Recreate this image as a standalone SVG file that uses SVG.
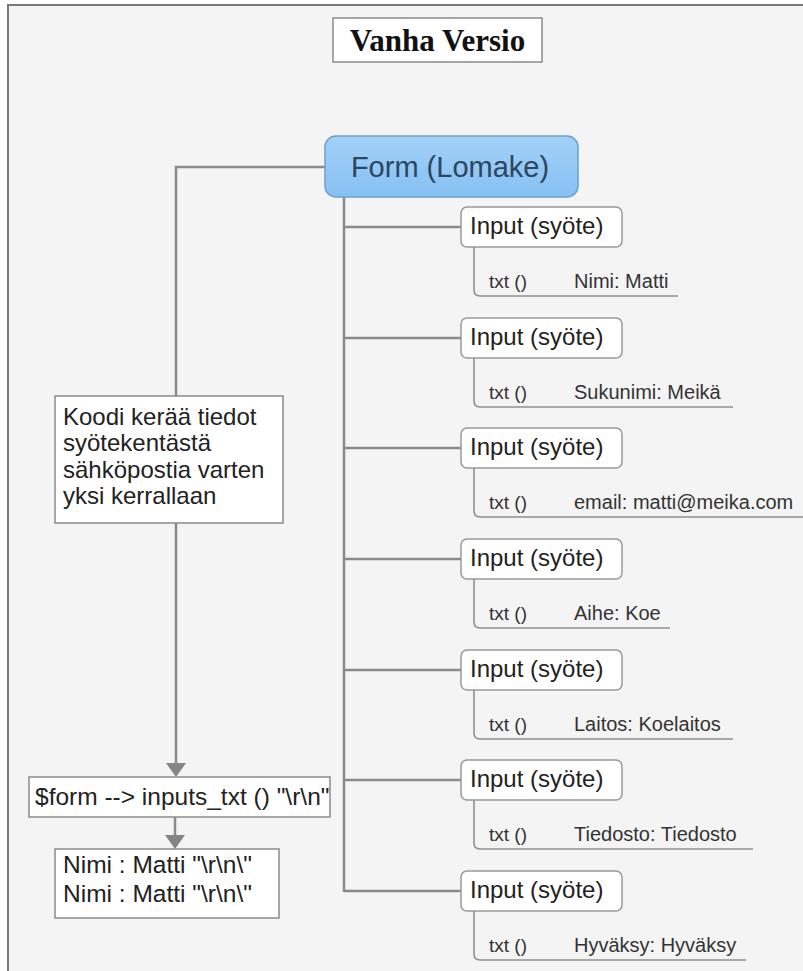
<svg xmlns="http://www.w3.org/2000/svg" width="803" height="971" viewBox="0 0 803 971">
  <defs>
    <linearGradient id="formFill" x1="0" y1="0" x2="0" y2="1">
      <stop offset="0" stop-color="#a3d1f8"/>
      <stop offset="1" stop-color="#86c0f3"/>
    </linearGradient>
    <g id="inputNode">
      <rect class="inbox" x="461" y="0" width="161" height="40" rx="6"/>
      <text class="intitle" x="470" y="27">Input (syöte)</text>
      <text class="txt" x="489" y="81">txt ()</text>
    </g>
  </defs>
  <style>
    .bg { fill: #f4f4f4; stroke: #7a7a7a; stroke-width: 2; }
    .box { fill: #ffffff; stroke: #8a8a8a; stroke-width: 1.5; }
    .inbox { fill: #ffffff; stroke: #999999; stroke-width: 1.5; }
    .link { fill: none; stroke: #8a8a8a; stroke-width: 2.5; }
    .sub { fill: none; stroke: #8f8f8f; stroke-width: 1.6; }
    .head { fill: #858585; }
    text { font-family: "Liberation Sans", Arial, sans-serif; fill: #222222; }
    .title { font-family: "Liberation Serif", "Times New Roman", serif; font-weight: bold; font-size: 31px; fill: #111111; }
    .formtext { font-size: 29px; fill: #2c4660; }
    .intitle { font-size: 24px; fill: #222222; }
    .txt { font-size: 19px; fill: #333333; }
    .val { font-size: 20px; fill: #333333; }
    .note { font-size: 24px; }
    .code { font-size: 24.5px; }
  </style>

  <!-- page frame -->
  <rect class="bg" x="8" y="5" width="820" height="990"/>

  <!-- title -->
  <g id="title">
    <rect class="box" x="333" y="18" width="209" height="44"/>
    <text class="title" x="437.5" y="51" text-anchor="middle">Vanha Versio</text>
  </g>

  <!-- connectors -->
  <g id="connectors">
    <!-- form to collector chain -->
    <polyline class="link" points="325,167 176,167 176,765"/>
    <polygon class="head" points="166,763 186,763 176,777"/>
    <line class="link" x1="175" y1="817" x2="175" y2="837"/>
    <polygon class="head" points="165,835 185,835 175,849"/>
    <!-- form trunk and branches -->
    <line class="link" x1="344" y1="197" x2="344" y2="892"/>
    <path class="link" d="M344,227 H461 M344,338 H461 M344,448 H461 M344,559 H461 M344,670 H461 M344,780 H461 M344,891 H461"/>
  </g>

  <!-- form node -->
  <g id="form">
    <rect x="325" y="136" width="253" height="61" rx="11" fill="url(#formFill)" stroke="#6e9fcb" stroke-width="1.5"/>
    <text class="formtext" x="450" y="177" text-anchor="middle">Form (Lomake)</text>
  </g>

  <!-- input fields -->
  <g id="input-nimi" transform="translate(0,207)">
    <use href="#inputNode"/>
    <path class="sub" d="M474,40 V83 Q474,89 480,89 H678"/>
    <text class="val" x="574" y="81">Nimi: Matti</text>
  </g>
  <g id="input-sukunimi" transform="translate(0,318)">
    <use href="#inputNode"/>
    <path class="sub" d="M474,40 V83 Q474,89 480,89 H733"/>
    <text class="val" x="574" y="81">Sukunimi: Meikä</text>
  </g>
  <g id="input-email" transform="translate(0,428)">
    <use href="#inputNode"/>
    <path class="sub" d="M474,40 V83 Q474,89 480,89 H803"/>
    <text class="val" x="574" y="81">email: matti@meika.com</text>
  </g>
  <g id="input-aihe" transform="translate(0,539)">
    <use href="#inputNode"/>
    <path class="sub" d="M474,40 V83 Q474,89 480,89 H670"/>
    <text class="val" x="574" y="81">Aihe: Koe</text>
  </g>
  <g id="input-laitos" transform="translate(0,650)">
    <use href="#inputNode"/>
    <path class="sub" d="M474,40 V83 Q474,89 480,89 H733"/>
    <text class="val" x="574" y="81">Laitos: Koelaitos</text>
  </g>
  <g id="input-tiedosto" transform="translate(0,760)">
    <use href="#inputNode"/>
    <path class="sub" d="M474,40 V83 Q474,89 480,89 H753"/>
    <text class="val" x="574" y="81">Tiedosto: Tiedosto</text>
  </g>
  <g id="input-hyvaksy" transform="translate(0,871)">
    <use href="#inputNode"/>
    <path class="sub" d="M474,40 V83 Q474,89 480,89 H746"/>
    <text class="val" x="574" y="81">Hyväksy: Hyväksy</text>
  </g>

  <!-- explanation note -->
  <g id="note">
    <rect class="box" x="55" y="396" width="228" height="127"/>
    <text class="note" x="63" y="425">Koodi kerää tiedot</text>
    <text class="note" x="63" y="451">syötekentästä</text>
    <text class="note" x="63" y="478">sähköpostia varten</text>
    <text class="note" x="63" y="504">yksi kerrallaan</text>
  </g>

  <!-- collector call -->
  <g id="collector">
    <rect class="box" x="29" y="777" width="301" height="40"/>
    <text class="code" x="35" y="805">$form --&gt; inputs_txt () "\r\n"</text>
  </g>

  <!-- result -->
  <g id="result">
    <rect class="box" x="55" y="849" width="224" height="69"/>
    <text class="code" x="63" y="873">Nimi : Matti "\r\n\"</text>
    <text class="code" x="63" y="902">Nimi : Matti "\r\n\"</text>
  </g>
</svg>
